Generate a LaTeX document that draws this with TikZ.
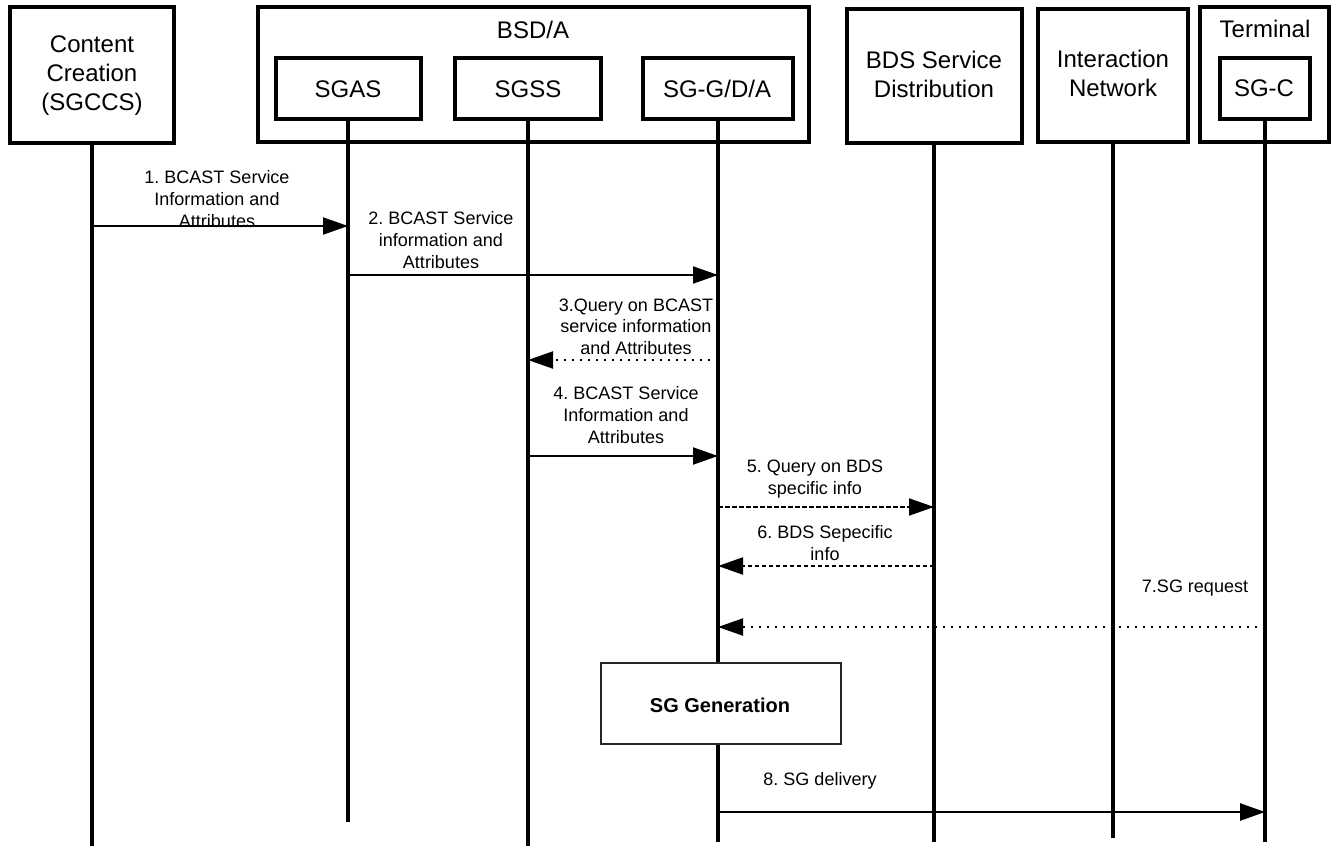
\documentclass[tikz,border=0pt]{standalone}
\usepackage{fontspec}
\setmainfont{Liberation Sans}
\usetikzlibrary{arrows.meta}
\frenchspacing
\begin{document}
\begin{tikzpicture}[x=1pt,y=-1pt,
  box/.style={draw,line width=4pt,inner sep=0pt},
  boxtxt/.style={align=center,font=\fontsize{24}{28.8}\selectfont\frenchspacing,anchor=base,inner sep=0pt},
  lbl/.style={align=center,font=\fontsize{18}{21.7}\selectfont\frenchspacing,anchor=base,inner sep=0pt},
  life/.style={line width=3.3pt},
  msg/.style={line width=2pt,-{Triangle[length=25pt,width=17pt]}},
  dotmsg/.style={msg,dash pattern=on 2pt off 6pt},
  dashmsg/.style={msg,dash pattern=on 4.5pt off 2.5pt},
  procbox/.style={draw=black!85,line width=1.2pt,fill=white,inner sep=0pt}
]
\useasboundingbox (0,0) rectangle (1331,846);

% header boxes
\node[box,minimum width=164pt,minimum height=136pt] (cc) at (92,75) {};
\node[boxtxt] (cctxt) at (92,110.5) {Content\\Creation\\(SGCCS)};

\node[box,minimum width=551pt,minimum height=135pt] (bsda) at (533.5,74.5) {};
\node[boxtxt] (bsdatxt) at (533,38) {BSD/A};
\node[box,minimum width=145pt,minimum height=61pt] (sgas) at (348,88.5) {};
\node[boxtxt] (sgastxt) at (348,97) {SGAS};
\node[box,minimum width=146pt,minimum height=61pt] (sgss) at (528,88.5) {};
\node[boxtxt] (sgsstxt) at (528,97) {SGSS};
\node[box,minimum width=150pt,minimum height=61pt] (sggda) at (718,88.5) {};
\node[boxtxt] (sggdatxt) at (717,97) {SG-G/D/A};

\node[box,minimum width=175pt,minimum height=134pt] (bds) at (934,76) {};
\node[boxtxt] (bdstxt) at (934,97) {BDS Service\\Distribution};

\node[box,minimum width=150pt,minimum height=133pt] (inet) at (1113,75.5) {};
\node[boxtxt] (inettxt) at (1113,96.5) {Interaction\\Network};

\node[box,minimum width=129pt,minimum height=135pt] (term) at (1264.5,74.5) {};
\node[boxtxt] (termtxt) at (1265,37) {Terminal};
\node[box,minimum width=90pt,minimum height=61pt] (sgc) at (1265,88.5) {};
\node[boxtxt] (sgctxt) at (1264,96) {SG-C};

% lifeline ends
\coordinate (ccend) at (92,846);
\coordinate (sgasend) at (348,822);
\coordinate (sgssend) at (528,846);
\coordinate (sggdaend) at (718,842);
\coordinate (bdsend) at (934,842);
\coordinate (inetend) at (1113,838);
\coordinate (sgcend) at (1265,842);

\draw[life] (cc.south) -- (ccend);
\draw[life] (sgas.south) -- (sgasend);
\draw[life] (sgss.south) -- (sgssend);
\draw[life] (sggda.south) -- (sggdaend);
\draw[life] (bds.south) -- (bdsend);
\draw[life] (inet.south) -- (inetend);
\draw[life] (sgc.south) -- (sgcend);

% messages
\draw[msg] (cc.south |- 0,226) -- (sgas.south |- 0,226);
\node[lbl] (l1) at (217,227) {1. BCAST Service\\Information and\\Attributes};

\draw[msg] (sgas.south |- 0,275) -- (sggda.south |- 0,275);
\node[lbl] (l2) at (441,268) {2. BCAST Service\\information and\\Attributes};

\draw[dotmsg] (sggda.south |- 0,360) -- (sgss.south |- 0,360);
\node[lbl] (l3) at (636,354.5) {3.Query on BCAST\\service information\\and Attributes};

\draw[msg] (sgss.south |- 0,456) -- (sggda.south |- 0,456);
\node[lbl] (l4) at (626,443) {4. BCAST Service\\Information and\\Attributes};

\draw[dashmsg] (sggda.south |- 0,507) -- (bds.south |- 0,507);
\node[lbl] (l5) at (815,494) {5. Query on BDS\\specific info};

\draw[dashmsg] (bds.south |- 0,566) -- (sggda.south |- 0,566);
\node[lbl] (l6) at (825,560) {6. BDS Sepecific\\info};

\draw[dotmsg] (sgc.south |- 0,627) -- (sggda.south |- 0,627);
\node[lbl] (l7) at (1195,592) {7.SG request};

\node[procbox,minimum width=240pt,minimum height=81pt] (sggen) at (721,703.5) {};
\node[anchor=base,inner sep=0pt,font=\fontsize{20}{24}\selectfont\bfseries] (sggentxt) at (720,712) {SG Generation};

\draw[msg,line width=2.7pt] (sggda.south |- 0,812) -- (sgc.south |- 0,812);
\node[lbl] (l8) at (820,785) {8. SG delivery};
\end{tikzpicture}
\end{document}
